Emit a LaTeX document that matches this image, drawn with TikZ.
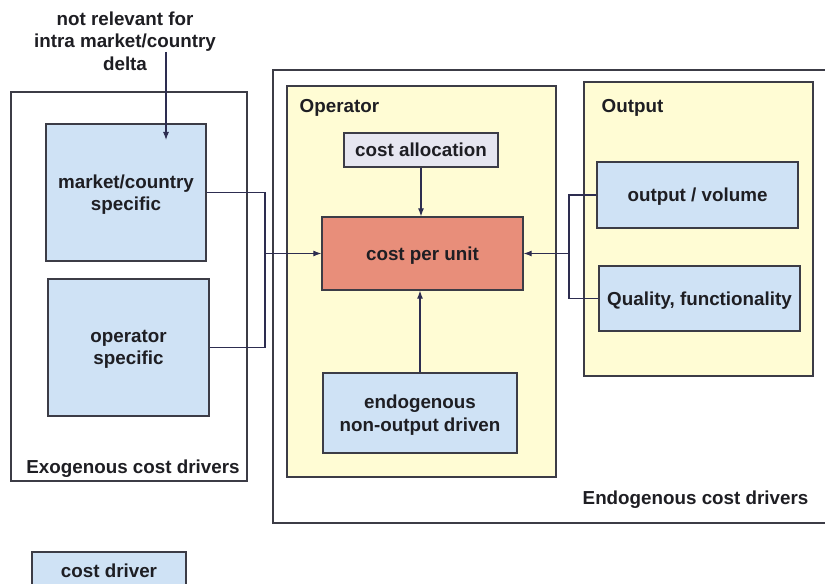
\documentclass[tikz,border=0pt]{standalone}
\usepackage{fontspec}
\setmainfont{Liberation Sans}
\usetikzlibrary{arrows.meta}
\definecolor{drvblue}{RGB}{207,226,245}
\definecolor{areayel}{RGB}{255,252,212}
\definecolor{unitred}{RGB}{232,142,122}
\definecolor{allocgray}{RGB}{230,230,240}
\definecolor{edge}{RGB}{60,60,70}
\definecolor{wire}{RGB}{45,45,80}
\definecolor{ink}{RGB}{30,30,35}
\tikzset{
  sz/.style 2 args={minimum width=#1*0.75pt, minimum height=#2*0.75pt},
  frame/.style={draw=edge, line width=1pt, inner sep=0pt, rectangle},
  driver/.style={frame, fill=drvblue},
  area/.style={frame, fill=areayel},
  txt/.style={text=ink, font=\fontsize{14.1}{16.8}\selectfont\bfseries, align=center, text depth=0pt},
  wirel/.style={draw=wire, line width=0.8pt},
  arr/.style={wirel, -{Latex[length=6pt,width=4.5pt]}},
}
\begin{document}
\begin{tikzpicture}[x=0.75pt, y=-0.75pt]
\clip (0,0) rectangle (825,584);
\fill[white] (0,0) rectangle (825,584);

% exogenous drivers
\node[frame, fill=white, sz={236}{389}] (exo) at (129,286.5) {};
\node[driver, sz={160}{137}, txt] (mkt) at (126,192.5) {market/country\\specific};
\node[driver, sz={161}{137}, txt] (ops) at (128.5,347.5) {operator\\specific};
\node[txt] (exolbl) at (133,467) {Exogenous cost drivers};

% endogenous drivers (frame runs off the right edge)
\draw[edge, line width=1pt] (830,70) -- (273,70) -- (273,523) -- (830,523);
\node[txt, anchor=west] (endolbl) at (578,498) {Endogenous cost drivers};

% operator area
\node[area, sz={269}{391}] (opr) at (421.5,281.5) {};
\node[txt, anchor=west] (oprlbl) at (295,106) {Operator};
\node[frame, fill=allocgray, sz={154}{34}, txt] (alloc) at (421,150) {cost allocation};
\node[frame, fill=unitred, sz={201}{73}, txt] (cpu) at (422.5,253.5) {cost per unit};
\node[driver, sz={194}{80}, txt] (endn) at (420,413) {endogenous\\non-output driven};

% output area
\node[area, sz={229}{294}] (outp) at (698.5,229) {};
\node[txt, anchor=west] (outlbl) at (597,106) {Output};
\node[driver, sz={201}{66}, txt] (vol) at (697.5,195) {output / volume};
\node[driver, sz={201}{65}, txt] (qual) at (699.5,298.5) {Quality, functionality};

% note above
\node[txt] (note) at (125,41) {not relevant for\\intra market/country\\delta};
\coordinate (nS) at (166,52);
\coordinate (nE) at (166,140);
\draw[arr] (nS) -- (nE);

% legend
\node[driver, sz={154}{48}] (leg) at (109,576) {};
\node[txt] (leglbl) at (109,571) {cost driver};

% connectors
\coordinate (jL) at (265,253.5);
\coordinate (jR) at (569,253.5);
\draw[wirel] (mkt.east) -| (jL) |- (ops.east);
\draw[arr] (jL) -- (cpu.west);
\draw[wirel] (vol.west) -| (jR) |- (qual.west);
\draw[arr] (jR) -- (cpu.east);
\draw[arr] (alloc.south) -- (alloc.south |- cpu.north);
\draw[arr] (endn.north) -- (endn.north |- cpu.south);
\end{tikzpicture}
\end{document}
